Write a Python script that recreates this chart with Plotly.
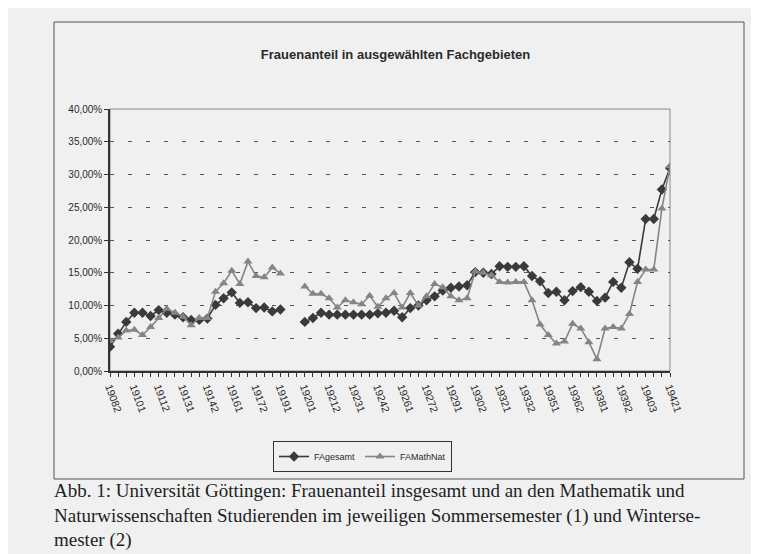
import numpy as np
import plotly.graph_objects as go

# Semester codes: year + 1 (Sommersemester) / 2 (Wintersemester) / 3 (Zwischen-/Trimester)
semester = [
    "19082", "19091", "19092", "19101", "19102", "19111", "19112", "19121", "19122", "19131",
    "19132", "19141", "19142", "19151", "19152", "19161", "19162", "19171", "19172", "19181",
    "19182", "19191", "19192", "19193", "19201", "19202", "19211", "19212", "19221", "19222",
    "19231", "19232", "19241", "19242", "19251", "19252", "19261", "19262", "19271", "19272",
    "19281", "19282", "19291", "19292", "19301", "19302", "19311", "19312", "19321", "19322",
    "19331", "19332", "19341", "19342", "19351", "19352", "19361", "19362", "19371", "19372",
    "19381", "19382", "19391", "19392", "19401", "19402", "19403", "19411", "19412", "19421",
]

# Frauenanteil in Prozent (None = keine Angabe)
fa_gesamt = [
    3.7, 5.7, 7.5, 8.9, 8.9, 8.4, 9.3, 8.9, 8.6, 8.2,
    7.8, 7.8, 8.0, 10.1, 11.1, 12.0, 10.4, 10.5, 9.6, 9.7,
    9.1, 9.4, None, None, 7.5, 8.1, 8.9, 8.6, 8.6, 8.6,
    8.6, 8.6, 8.6, 8.8, 8.9, 9.2, 8.2, 9.6, 10.0, 10.8,
    11.4, 12.3, 12.7, 12.9, 13.1, 15.1, 15.0, 14.8, 16.0, 15.9,
    15.9, 16.0, 14.5, 13.7, 11.9, 12.1, 10.8, 12.2, 12.8, 12.1,
    10.7, 11.2, 13.6, 12.7, 16.6, 15.6, 23.2, 23.2, 27.7, 31.0,
]
fa_mathnat = [
    4.6, 5.1, 6.2, 6.3, 5.5, 6.7, 8.1, 9.5, 8.9, 8.3,
    7.0, 8.1, 8.1, 12.1, 13.4, 15.3, 13.3, 16.7, 14.5, 14.3,
    15.8, 14.9, None, None, 12.9, 11.8, 11.8, 11.1, 9.7, 10.8,
    10.5, 10.2, 11.5, 9.8, 11.1, 11.9, 9.7, 11.9, 10.0, 11.4,
    13.3, 12.8, 11.4, 10.8, 11.1, 15.2, 15.0, 14.6, 13.6, 13.5,
    13.6, 13.6, 10.8, 7.1, 5.5, 4.2, 4.5, 7.2, 6.5, 4.4,
    1.8, 6.5, 6.7, 6.5, 8.7, 13.6, 15.5, 15.5, 24.8, 31.3,
]

tick_text = [s if i % 3 == 0 else "" for i, s in enumerate(semester)]


def frac(vals):
    return [None if v is None else v / 100 for v in vals]


OFF = 8  # page body margin
W, H = 759 - OFF, 554 - OFF
L, R, T, B = 110 - OFF, 670 - OFF, 109 - OFF, 371 - OFF   # plot area in pixels


def px(x):
    return (x - OFF - L) / (R - L)


def py(y):
    return (B - (y - OFF)) / (B - T)


bg = "#f0f0f0"
fig = go.Figure()

fig.add_trace(go.Scatter(
    x=semester, y=frac(fa_gesamt), name="FAgesamt", mode="lines+markers",
    line=dict(color="#3a3a3a", width=1.6),
    marker=dict(symbol="diamond", size=8, color="#3a3a3a"),
    connectgaps=False,
))
fig.add_trace(go.Scatter(
    x=semester, y=frac(fa_mathnat), name="FAMathNat", mode="lines+markers",
    line=dict(color="#858585", width=1.6),
    marker=dict(symbol="triangle-up", size=8, color="#858585"),
    connectgaps=False,
))

# chart area frame + plot frame
fig.add_shape(type="rect", xref="paper", yref="paper",
              x0=px(54), x1=px(744), y0=py(479), y1=py(22),
              line=dict(color="#555555", width=1), layer="below")
fig.add_shape(type="rect", xref="paper", yref="paper",
              x0=0, x1=1, y0=0, y1=1,
              line=dict(color="#8a8a8a", width=1), layer="below")

fig.add_annotation(
    text="Abb. 1: Universität Göttingen: Frauenanteil insgesamt und an den Mathematik und<br>"
         "Naturwissenschaften Studierenden im jeweiligen Sommersemester (1) und Winterse-<br>"
         "mester (2)",
    xref="paper", yref="paper", x=px(52), y=py(478), xanchor="left", yanchor="top",
    align="left", showarrow=False,
    font=dict(family="Liberation Serif", size=19, color="#1e1e1e"),
)

fig.update_layout(
    width=W, height=H,
    margin=dict(l=L, r=W - R, t=T, b=H - B),
    paper_bgcolor=bg, plot_bgcolor=bg,
    separators=",.",
    font=dict(family="Liberation Sans", color="#2a2a2a"),
    title=dict(text="<b>Frauenanteil in ausgewählten Fachgebieten</b>",
               x=px(399), xanchor="center", y=1 - (54 - OFF) / H, yanchor="middle",
               font=dict(size=13, color="#2a2a2a")),
    showlegend=True,
    legend=dict(orientation="h", x=px(273), y=py(441), xanchor="left", yanchor="top",
                bordercolor="#333333", borderwidth=1, bgcolor=bg,
                font=dict(size=9), itemwidth=30, tracegroupgap=0),
    xaxis=dict(type="category", range=[0, len(semester) - 1],
               tickmode="array", tickvals=semester, ticktext=tick_text,
               tickangle=70, tickfont=dict(size=10.5),
               ticks="outside", ticklen=4, tickcolor="#333333",
               showline=True, linecolor="#333333", linewidth=1.5,
               showgrid=False, zeroline=False),
    yaxis=dict(range=[0, 0.4], dtick=0.05, tickformat=".2%",
               tickfont=dict(size=10),
               ticks="outside", ticklen=4, tickcolor="#333333",
               showline=True, linecolor="#333333", linewidth=1.5,
               showgrid=True, gridcolor="#555555", gridwidth=1, griddash="4px,14px",
               zeroline=False),
)

fig.write_html("out.html")
